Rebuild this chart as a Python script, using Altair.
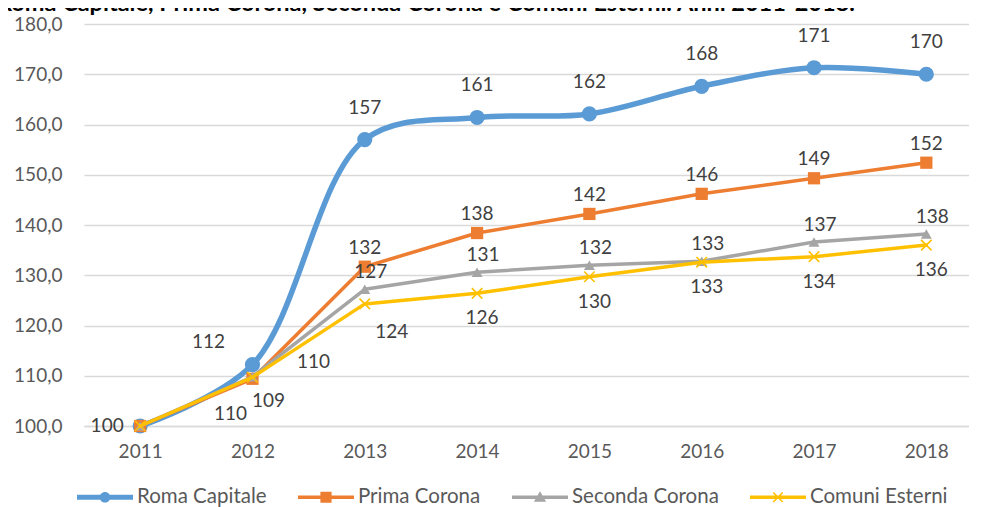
import altair as alt
import pandas as pd

YEARS = [2011, 2012, 2013, 2014, 2015, 2016, 2017, 2018]
SERIES = ["Roma Capitale", "Prima Corona", "Seconda Corona", "Comuni Esterni"]
ROMA = [100.0, 112.2, 157.0, 161.4, 162.1, 167.6, 171.3, 170.0]
PRIMA = [100.0, 109.4, 131.7, 138.4, 142.2, 146.2, 149.3, 152.4]
SECONDA = [100.0, 109.8, 127.2, 130.6, 132.0, 132.8, 136.6, 138.2]
COMUNI = [100.0, 109.7, 124.3, 126.4, 129.7, 132.6, 133.7, 136.0]
Y_TICKS = [100, 110, 120, 130, 140, 150, 160, 170, 180]
TITLE = "Roma Capitale, Prima Corona, Seconda Corona e Comuni Esterni. Anni 2011-2018."

COLORS = ["#5B9BD5", "#ED7D31", "#A5A5A5", "#FFC000"]
FONT = "Lato"

rows = []
for name, vals in zip(SERIES, [ROMA, PRIMA, SECONDA, COMUNI]):
    for y, v in zip(YEARS, vals):
        rows.append({"year": y, "series": name, "value": v})
df = pd.DataFrame(rows)

x_enc = alt.X("year:Q", scale=alt.Scale(domain=[2010.5, 2018.38], nice=False, zero=False),
              axis=alt.Axis(values=YEARS, format="d", title=None, grid=False, ticks=False,
                            domain=True, domainColor="#D9D9D9", domainWidth=1.3,
                            labelFont=FONT, labelFontSize=19, labelColor="#595959",
                            labelPadding=16))
y_enc = alt.Y("value:Q", scale=alt.Scale(domain=[100, 180], nice=False, zero=False),
              axis=alt.Axis(values=Y_TICKS, title=None, grid=True, gridColor="#D9D9D9",
                            gridWidth=1.3, ticks=False, domain=False,
                            labelExpr="replace(format(datum.value, '.1f'), '.', ',')",
                            labelFont=FONT, labelFontSize=19, labelColor="#595959",
                            labelPadding=22))

STYLE = {
    "Roma Capitale": dict(width=5.5, interp="catmull-rom", shape="circle", size=230, filled=True),
    "Prima Corona": dict(width=3.5, interp="linear", shape="square", size=150, filled=True),
    "Seconda Corona": dict(width=3.5, interp="linear", shape="triangle-up", size=120, filled=True),
    "Comuni Esterni": dict(width=3.5, interp="linear", shape="M-1,-1L1,1M1,-1L-1,1", size=110, filled=False),
}

# label offsets: default per series, exceptions per (series, year); None = hidden
LABEL_DEFAULT = {
    "Roma Capitale": (0, -32),
    "Prima Corona": (0, -19),
    "Seconda Corona": (6, -17),
    "Comuni Esterni": (5, 25),
}
LABEL_EXCEPT = {
    ("Roma Capitale", 2011): (-33, 0),
    ("Roma Capitale", 2012): (-44, -23),
    ("Prima Corona", 2011): None,
    ("Prima Corona", 2012): (16, 22),
    ("Seconda Corona", 2011): None,
    ("Seconda Corona", 2012): (61, -15),
    ("Comuni Esterni", 2011): None,
    ("Comuni Esterni", 2012): (-22, 37),
    ("Comuni Esterni", 2013): (27, 28),
}

base = alt.Chart(df)
layers = []
for name, col in zip(SERIES, COLORS):
    st = STYLE[name]
    sub = base.transform_filter(alt.datum.series == name)
    layers.append(sub.mark_line(color=col, strokeWidth=st["width"], interpolate=st["interp"],
                                strokeCap="round", strokeJoin="round").encode(x=x_enc, y=y_enc))
    layers.append(sub.mark_point(shape=st["shape"], size=st["size"], filled=st["filled"],
                                 color=col, opacity=1, strokeWidth=1.6).encode(x=x_enc, y=y_enc))

label_layers = []
for name in SERIES:
    exc_years = [y for (s, y) in LABEL_EXCEPT if s == name]
    dx, dy = LABEL_DEFAULT[name]
    sub = base.transform_filter(alt.datum.series == name).transform_filter(
        "indexof(" + str(exc_years) + ", datum.year) < 0")
    label_layers.append(sub.mark_text(dx=dx, dy=dy, font=FONT, fontSize=19, color="#404040",
                                      align="center", baseline="middle").encode(
        x=x_enc, y=y_enc, text=alt.Text("value:Q", format=".0f")))
    for (s, y), off in LABEL_EXCEPT.items():
        if s != name or off is None:
            continue
        sub2 = base.transform_filter((alt.datum.series == name) & (alt.datum.year == y))
        label_layers.append(sub2.mark_text(dx=off[0], dy=off[1], font=FONT, fontSize=19,
                                           color="#404040", align="center",
                                           baseline="middle").encode(
            x=x_enc, y=y_enc, text=alt.Text("value:Q", format=".0f")))

# legend symbols (unit = 28 px at symbolSize 3136)
LEGEND_PATHS = [
    "M-1,-0.09L1,-0.09L1,0.09L-1,0.09Z M-0.19,0A0.19,0.19,0,1,1,0.19,0A0.19,0.19,0,1,1,-0.19,0Z",
    "M-1,-0.065L1,-0.065L1,0.065L-1,0.065Z M-0.2,-0.2L0.2,-0.2L0.2,0.2L-0.2,0.2Z",
    "M-1,-0.065L1,-0.065L1,0.065L-1,0.065Z M0,-0.21L0.22,0.16L-0.22,0.16Z",
    "M-1,-0.065L1,-0.065L1,0.065L-1,0.065Z "
    "M-0.149,-0.191L0.191,0.149L0.149,0.191L-0.191,-0.149Z "
    "M0.149,-0.191L0.191,-0.149L-0.149,0.191L-0.191,0.149Z",
]
leg = alt.Legend(orient="none", legendX=-7, legendY=445, direction="horizontal", title=None,
                 symbolSize=3136, symbolStrokeWidth=0, symbolOpacity=1,
                 labelFont=FONT, labelFontSize=20.5, labelColor="#595959",
                 columnPadding=31, labelOffset=4, padding=0)
legend_layer = base.mark_point(filled=True, opacity=1, clip=True).encode(
    x=alt.value(-3000), y=alt.value(-3000),
    color=alt.Color("series:N", scale=alt.Scale(domain=SERIES, range=COLORS), legend=leg),
    shape=alt.Shape("series:N", scale=alt.Scale(domain=SERIES, range=LEGEND_PATHS), legend=leg),
)

title_layer = alt.Chart(pd.DataFrame({"t": [TITLE]})).mark_text(
    font=FONT, fontSize=23.5, fontWeight="bold", color="#000000", align="left",
    baseline="alphabetic").encode(x=alt.value(-87), y=alt.value(-13), text="t:N")

chart = alt.layer(*layers, *label_layers, legend_layer, title_layer).properties(
    width=885, height=402,
    autosize=alt.AutoSizeParams(type="none"),
    padding={"left": 76, "top": 16, "right": 0, "bottom": 81},
    background="white",
).configure_view(stroke=None)

chart.save("out.html", embed_options={"renderer": "svg", "actions": False})
